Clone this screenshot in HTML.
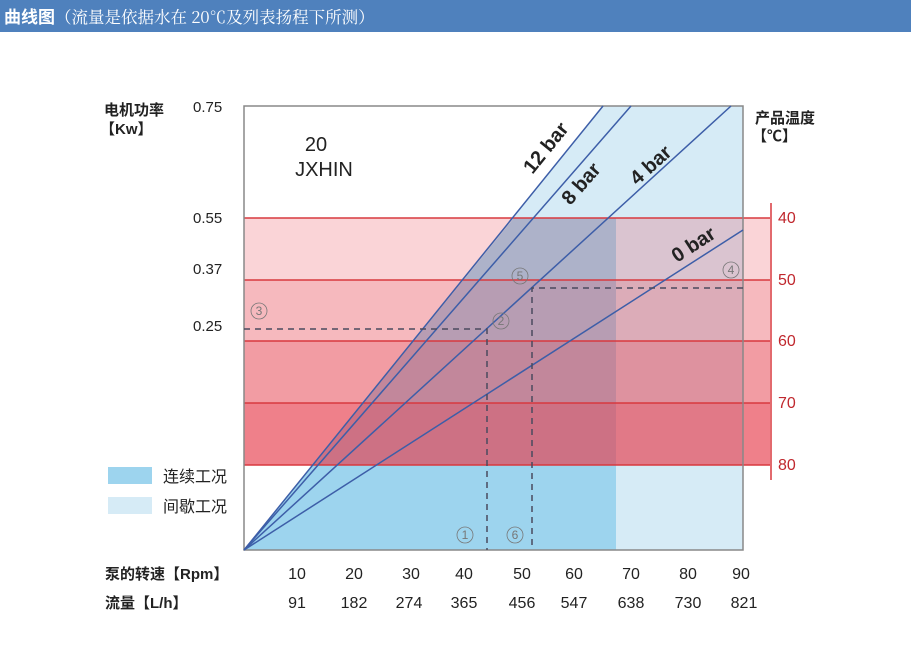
<!DOCTYPE html>
<html><head><meta charset="utf-8"><style>
body{margin:0;width:911px;height:661px;background:#fff;overflow:hidden;font-family:"Liberation Sans","Noto Sans CJK SC",sans-serif;}
.hd{position:absolute;left:0;top:0;width:911px;height:32px;background:#4f81bd;color:#fff;font-size:17px;line-height:32px;}
</style></head><body>
<div class="hd"><span style="font-family:'Noto Sans CJK SC',sans-serif;font-weight:bold;margin-left:4px">曲线图</span><span style="font-family:'Noto Serif CJK SC','Noto Sans CJK SC',serif;font-size:16.5px">（流量是依据水在 20℃及列表扬程下所测）</span></div>
<svg width="911" height="661" style="position:absolute;left:0;top:0" font-family="Liberation Sans, Noto Sans CJK SC, sans-serif">
<polygon points="244,550 603,106 743,106 743,550" fill="#d6ebf6"/>
<polygon points="244,550 514,218 616,218 616,550" fill="#9dd4ee"/>
<rect x="244" y="218" width="526" height="62" fill="rgba(230,60,75,0.22)"/>
<rect x="244" y="280" width="526" height="61" fill="rgba(230,60,75,0.36)"/>
<rect x="244" y="341" width="526" height="62" fill="rgba(230,60,75,0.51)"/>
<rect x="244" y="403" width="526" height="62" fill="rgba(230,60,75,0.65)"/>
<g stroke="#d8393f" stroke-width="1.5">
<line x1="244" y1="218" x2="770" y2="218"/><line x1="244" y1="280" x2="770" y2="280"/>
<line x1="244" y1="341" x2="770" y2="341"/><line x1="244" y1="403" x2="770" y2="403"/>
<line x1="244" y1="465" x2="770" y2="465"/>
<line x1="771" y1="203" x2="771" y2="480"/>
</g>
<rect x="244" y="106" width="499" height="444" fill="none" stroke="#888" stroke-width="1.5"/>
<g stroke="#3d5ea8" stroke-width="1.5">
<line x1="244" y1="550" x2="603" y2="106"/><line x1="244" y1="550" x2="631" y2="106"/>
<line x1="244" y1="550" x2="731" y2="106"/><line x1="244" y1="550" x2="743" y2="230"/>
</g>
<g stroke="#4a4a5e" stroke-width="1.5" stroke-dasharray="6,5" fill="none">
<polyline points="244,329 487,329 487,550"/><polyline points="743,288 532,288 532,550"/>
</g>
<g fill="none" stroke="#777" stroke-width="0.8"><circle cx="259" cy="311" r="8"/><circle cx="501" cy="321" r="8"/><circle cx="520" cy="276" r="8"/><circle cx="731" cy="270" r="8"/><circle cx="465" cy="535" r="8"/><circle cx="515" cy="535" r="8"/></g>
<g fill="#777" font-size="12" text-anchor="middle"><text x="259" y="315">3</text><text x="501" y="325">2</text><text x="520" y="280">5</text><text x="731" y="274">4</text><text x="465" y="539">1</text><text x="515" y="539">6</text></g>
<g font-size="20" fill="#222" text-anchor="middle"><text x="316" y="151">20</text><text x="324" y="176">JXHIN</text></g>
<g font-size="20" fill="#222" font-weight="bold" text-anchor="middle">
<text transform="translate(551,152) rotate(-51)">12 bar</text>
<text transform="translate(586,188) rotate(-49)">8 bar</text>
<text transform="translate(655,170) rotate(-42)">4 bar</text>
<text transform="translate(697,250) rotate(-33)">0 bar</text>
</g>
<g font-size="15" fill="#222">
<text x="104" y="115" font-weight="bold">电机功率</text><text x="100" y="134" font-weight="bold">【Kw】</text>
<text x="193" y="112">0.75</text><text x="193" y="223">0.55</text><text x="193" y="274">0.37</text><text x="193" y="331">0.25</text>
<text x="755" y="123" font-weight="bold">产品温度</text><text x="752" y="141" font-weight="bold">【℃】</text>
<text x="105" y="579" font-weight="bold">泵的转速【Rpm】</text><text x="105" y="608" font-weight="bold">流量【L/h】</text>
<text x="163" y="482" font-size="16">连续工况</text><text x="163" y="512" font-size="16">间歇工况</text>
</g>
<rect x="108" y="467" width="44" height="17" fill="#9dd4ee"/><rect x="108" y="497" width="44" height="17" fill="#d6ebf6"/>
<g font-size="16" fill="#c0282e"><text x="778" y="223">40</text><text x="778" y="285">50</text><text x="778" y="346">60</text><text x="778" y="408">70</text><text x="778" y="470">80</text></g>
<g font-size="16" fill="#222" text-anchor="middle">
<text x="297" y="579">10</text><text x="354" y="579">20</text><text x="411" y="579">30</text><text x="464" y="579">40</text><text x="522" y="579">50</text><text x="574" y="579">60</text><text x="631" y="579">70</text><text x="688" y="579">80</text><text x="741" y="579">90</text>
<text x="297" y="608">91</text><text x="354" y="608">182</text><text x="409" y="608">274</text><text x="464" y="608">365</text><text x="522" y="608">456</text><text x="574" y="608">547</text><text x="631" y="608">638</text><text x="688" y="608">730</text><text x="744" y="608">821</text>
</g>
</svg>
</body></html>
